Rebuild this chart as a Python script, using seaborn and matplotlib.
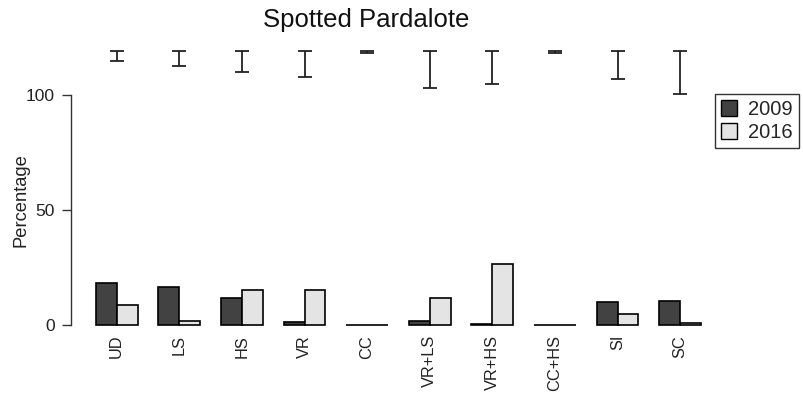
import numpy as np
import pandas as pd
import seaborn as sns
import matplotlib
matplotlib.use("Agg")
import matplotlib.pyplot as plt

categories = ["UD", "LS", "HS", "VR", "CC", "VR+LS", "VR+HS", "CC+HS", "SI", "SC"]
pct_2009 = [18.5, 16.8, 11.7, 1.4, 0.0, 2.0, 0.5, 0.0, 10.3, 10.6]
pct_2016 = [8.7, 1.7, 15.3, 15.3, 0.0, 12.0, 26.5, 0.0, 5.0, 1.1]
ci_low = [114.9, 112.7, 110.3, 108.1, 118.4, 103.0, 104.9, 118.4, 107.2, 100.5]
ci_high = [119.3, 119.3, 119.3, 119.3, 119.3, 119.3, 119.3, 119.3, 119.3, 119.3]
years = ["2009", "2016"]
yticks = [0, 50, 100]

df = pd.DataFrame({
    "category": categories * 2,
    "year": [years[0]] * len(categories) + [years[1]] * len(categories),
    "pct": pct_2009 + pct_2016,
})

sns.set_style("white")
plt.rcParams["font.family"] = ["Liberation Sans", "DejaVu Sans"]

W, H = 804, 399
fig = plt.figure(figsize=(W / 100, H / 100), dpi=100)

# axes placement in pixels
ax_left, ax_right, ax_top, ax_bot = 70.7, 710.0, 40.0, 328.0
ax = fig.add_axes([ax_left / W, 1 - ax_bot / H, (ax_right - ax_left) / W, (ax_bot - ax_top) / H])

sns.barplot(data=df, x="category", y="pct", hue="year", hue_order=years,
            order=categories, palette=["#424242", "#e4e4e4"],
            edgecolor="black", linewidth=1.2, width=2 / 3, gap=0,
            errorbar=None, ax=ax)

# interval bars at the top
xpos = np.arange(len(categories))
lo = np.array(ci_low)
hi = np.array(ci_high)
ax.errorbar(xpos, hi, yerr=[hi - lo, np.zeros_like(hi)], fmt="none",
            ecolor="#222222", elinewidth=1.3, capsize=5.3, capthick=1.3)

# scales: 0 at y=325.3px, 2.3 px per unit
y0_px, ppu = 325.3, 2.3
ylo = (y0_px - ax_bot) / ppu
yhi = (y0_px - ax_top) / ppu
ax.set_ylim(ylo, yhi)
x0_px, ppx = 116.7, 62.6
ax.set_xlim((ax_left - x0_px) / ppx, (ax_right - x0_px) / ppx)

for s in ["top", "right", "bottom"]:
    ax.spines[s].set_visible(False)
ax.spines["left"].set_bounds(0, 100)
ax.spines["left"].set_color("#333333")
ax.spines["left"].set_linewidth(1.0)
ax.set_yticks(yticks)
ax.tick_params(axis="y", left=True, length=6.5, width=1.0, color="#333333",
               labelsize=12.6, pad=5, labelcolor="#222222")
ax.tick_params(axis="x", bottom=False, length=0, labelsize=11.8, pad=5,
               labelrotation=90, labelcolor="#222222")
ax.set_xlabel("")
ax.set_ylabel("Percentage", fontsize=13.2, color="#222222")
ycen = (50 - ylo) / (yhi - ylo)
ax.yaxis.set_label_coords((30 - ax_left) / (ax_right - ax_left), ycen + 10 / (ax_bot - ax_top))

fig.text(366 / W, 1 - 20 / H, "Spotted Pardalote", ha="center", va="center",
         fontsize=18.5, color="#111111")

sns.move_legend(ax, loc="upper left", bbox_to_anchor=(715 / W, 1 - 94 / H),
                bbox_transform=fig.transFigure, title=None, frameon=True,
                fontsize=14.5, fancybox=False, borderpad=0.3, handlelength=0.8,
                handleheight=0.8, handletextpad=0.55, labelspacing=0.2,
                borderaxespad=0)
leg = ax.get_legend()
leg.get_frame().set_edgecolor("black")
leg.get_frame().set_linewidth(1.0)
for h in leg.legend_handles:
    h.set_edgecolor("black")
    h.set_linewidth(1.0)

fig.savefig("out.png", dpi=100)
